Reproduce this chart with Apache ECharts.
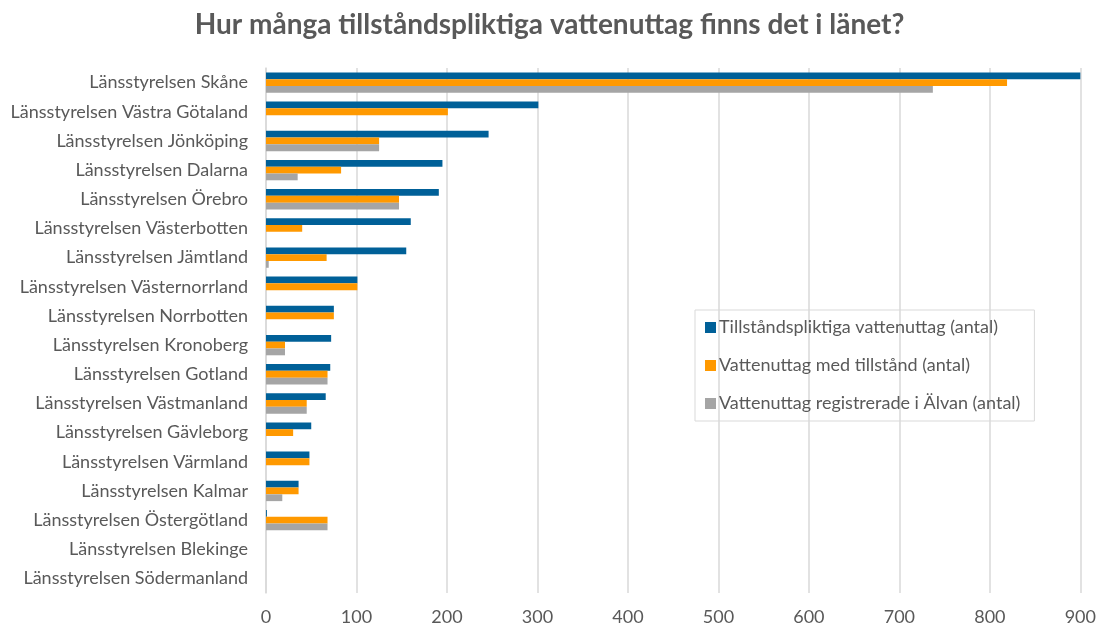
<!DOCTYPE html>
<html>
<head>
<meta charset="utf-8">
<script src="https://cdn.jsdelivr.net/npm/echarts@6/dist/echarts.min.js"></script>
<style>
  html, body { margin: 0; padding: 0; background: #fff; }
  #chart { width: 1099px; height: 626px; }
</style>
</head>
<body>
<div id="chart"></div>
<script>
var categories = [
    'Länsstyrelsen Skåne', 'Länsstyrelsen Västra Götaland', 'Länsstyrelsen Jönköping',
    'Länsstyrelsen Dalarna', 'Länsstyrelsen Örebro', 'Länsstyrelsen Västerbotten',
    'Länsstyrelsen Jämtland', 'Länsstyrelsen Västernorrland', 'Länsstyrelsen Norrbotten',
    'Länsstyrelsen Kronoberg', 'Länsstyrelsen Gotland', 'Länsstyrelsen Västmanland',
    'Länsstyrelsen Gävleborg', 'Länsstyrelsen Värmland', 'Länsstyrelsen Kalmar',
    'Länsstyrelsen Östergötland', 'Länsstyrelsen Blekinge', 'Länsstyrelsen Södermanland'
];
var pliktiga = [900, 301, 246, 195, 191, 160, 155, 101, 75, 72, 71, 66, 50, 48, 36, 1, 0, 0];
var medTillstand = [819, 201, 125, 83, 147, 40, 67, 101, 75, 21, 68, 45, 30, 48, 36, 68, 0, 0];
var alvan = [737, 0, 125, 35, 147, 0, 3, 0, 0, 21, 68, 45, 0, 0, 18, 68, 0, 0];

var seriesNames = [
    'Tillståndspliktiga vattenuttag (antal)',
    'Vattenuttag med tillstånd (antal)',
    'Vattenuttag registrerade i Älvan (antal)'
];
var xTicks = [0, 100, 200, 300, 400, 500, 600, 700, 800, 900];

var font = 'Lato, "Open Sans", sans-serif';
var chart = echarts.init(document.getElementById('chart'));

function barSeries(name, data, color) {
    return {
        name: name,
        type: 'bar',
        data: data,
        barGap: '0%',
        barCategoryGap: '30%',
        itemStyle: { color: color },
        emphasis: { disabled: true }
    };
}

var option = {
    backgroundColor: '#fff',
    animation: false,
    title: {
        text: 'Hur många tillståndspliktiga vattenuttag finns det i länet?',
        left: 'center',
        top: 6,
        textStyle: { fontFamily: font, fontSize: 28, fontWeight: 'bold', color: '#595959' }
    },
    legend: {
        orient: 'vertical',
        left: 695,
        top: 310,
        padding: [8, 14, 8, 10],
        itemGap: 19,
        itemWidth: 11,
        itemHeight: 11,
        icon: 'rect',
        borderColor: '#d9d9d9',
        borderWidth: 1,
        textStyle: { fontFamily: font, fontSize: 18, lineHeight: 19, color: '#595959', padding: [0, 0, 0, -2] },
        data: seriesNames
    },
    grid: { left: 266, right: 15, top: 68, bottom: 33, containLabel: false },
    xAxis: {
        type: 'value',
        min: xTicks[0],
        max: xTicks[xTicks.length - 1],
        interval: 100,
        axisLine: { show: false },
        axisTick: { show: false },
        axisLabel: { fontFamily: font, fontSize: 18, color: '#595959', margin: 15 },
        splitLine: { lineStyle: { color: '#d9d9d9', width: 1.5 } }
    },
    yAxis: {
        type: 'category',
        inverse: true,
        data: categories,
        axisLine: { lineStyle: { color: '#d9d9d9', width: 1.5 } },
        axisTick: { show: false },
        axisLabel: { fontFamily: font, fontSize: 18, color: '#595959', margin: 18 }
    },
    series: [
        barSeries(seriesNames[0], pliktiga, '#006098'),
        barSeries(seriesNames[1], medTillstand, '#ff9900'),
        barSeries(seriesNames[2], alvan, '#a5a5a5')
    ]
};

chart.setOption(option);
</script>
</body>
</html>
